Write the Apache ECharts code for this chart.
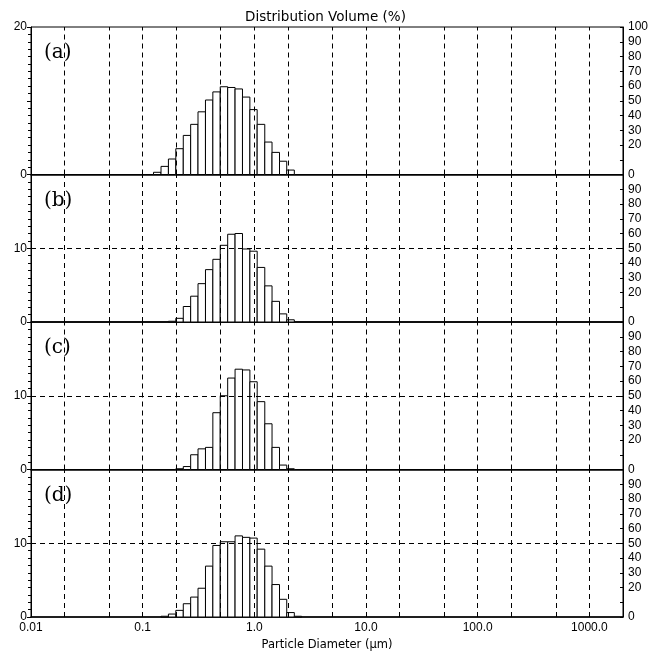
<!DOCTYPE html>
<html>
<head>
<meta charset="utf-8">
<script src="https://cdn.jsdelivr.net/npm/echarts@6/dist/echarts.min.js"></script>
<style>
  html, body { margin: 0; padding: 0; background: #fff; }
  #chart { width: 651px; height: 653px; }
</style>
</head>
<body>
<div id="chart"></div>
<script>
// bin edges of the size classes (um), bin i runs from binEdges[i] to binEdges[i+1]
const binEdges = [0.107, 0.125, 0.146, 0.170, 0.198, 0.231, 0.269, 0.313, 0.365, 0.425, 0.495,
  0.577, 0.672, 0.783, 0.912, 1.06, 1.24, 1.44, 1.68, 1.95, 2.28, 2.65];

// volume in each bin (%)
const volA = [0, 0.3, 1.1, 2.1, 3.5, 5.3, 6.8, 8.5, 10.1, 11.2, 11.9, 11.8, 11.6, 10.5, 8.8, 6.8, 4.4, 3.0, 1.8, 0.6, 0];
const volB = [0, 0, 0, 0.1, 0.5, 2.1, 3.5, 5.2, 7.1, 8.5, 10.4, 11.9, 12.0, 9.9, 9.6, 7.4, 4.9, 2.8, 1.1, 0.3, 0];
const volC = [0, 0, 0, 0, 0.1, 0.4, 2.0, 2.8, 3.0, 7.7, 10.0, 12.4, 13.6, 13.5, 11.9, 9.2, 6.2, 3.0, 0.6, 0.1, 0];
const volD = [0, 0, 0.1, 0.4, 0.9, 1.8, 2.7, 3.9, 6.9, 9.7, 10.2, 10.2, 11.0, 10.8, 10.7, 9.2, 6.9, 4.4, 2.4, 0.6, 0.1];

const panelNames = ['(a)', '(b)', '(c)', '(d)'];
const panelData = [volA, volB, volC, volD];

// dashed vertical grid lines (um)
const gridDiam = [0.02, 0.05, 0.1, 0.2, 0.5, 1, 2, 5, 10, 20, 50, 100, 200, 500, 1000];
const xTickLabels = ['0.01', '0.1', '1.0', '10.0', '100.0', '1000.0'];

const chart = echarts.init(document.getElementById('chart'));

const panelTop = [27, 174.5, 322, 469.5];
const panelH = 147.5;
const font = '"Liberation Sans", Arial, sans-serif';
const wideFont = '"DejaVu Sans", sans-serif';

const grids = [], xAxes = [], yAxes = [], series = [], graphics = [];

panelData.forEach(function (vals, i) {
  grids.push({
    left: 31, right: 28, top: panelTop[i], height: panelH,
    show: true, borderColor: '#000', borderWidth: 1, backgroundColor: 'transparent'
  });

  xAxes.push({
    type: 'log', logBase: 10, gridIndex: i, min: 0.01, max: 2000,
    axisLine: { show: true, onZero: false, lineStyle: { color: '#000', width: 1.5 } },
    axisTick: { show: false },
    splitLine: { show: false },
    axisLabel: {
      show: i === 3, color: '#000', fontSize: 12, fontFamily: font, margin: 5,
      showMaxLabel: false,
      formatter: function (v) {
        const e = Math.log10(v);
        if (Math.abs(e - Math.round(e)) > 1e-6) return '';
        return xTickLabels[Math.round(e) + 2] || '';
      }
    },
    name: i === 3 ? 'Particle Diameter (µm)' : '',
    nameLocation: 'middle', nameGap: 22,
    nameTextStyle: { color: '#000', fontSize: 11.5, fontFamily: wideFont }
  });

  // left axis: distribution volume 0-20
  yAxes.push({
    type: 'value', gridIndex: i, min: 0, max: 20, interval: 10, position: 'left',
    axisLine: { show: true, lineStyle: { color: '#000' } },
    axisTick: { show: true, length: 4, lineStyle: { color: '#000' } },
    minorTick: { show: true, splitNumber: 10, length: 3, lineStyle: { color: '#000' } },
    splitLine: { show: false },
    axisLabel: {
      color: '#000', fontSize: 12, fontFamily: font, margin: 4,
      showMaxLabel: i === 0,
      formatter: function (v) { return (i === 0 && v === 10) ? '' : String(v); }
    }
  });

  // right axis: cumulative 0-100
  yAxes.push({
    type: 'value', gridIndex: i, min: 0, max: 100, interval: 10, position: 'right',
    axisLine: { show: true, lineStyle: { color: '#000' } },
    axisTick: { show: true, inside: true, length: 3, lineStyle: { color: '#000' } },
    splitLine: { show: false },
    axisLabel: {
      color: '#000', fontSize: 12, fontFamily: font, margin: 5,
      padding: [0, 0, 8, 0],
      showMaxLabel: i === 0,
      formatter: function (v) { return v === 10 ? '' : String(v); }
    }
  });

  const lines = gridDiam.map(function (d) { return { xAxis: d }; });
  if (i > 0) lines.push({ yAxis: 10 });

  series.push({
    type: 'custom',
    xAxisIndex: i,
    yAxisIndex: i * 2,
    data: vals.map(function (v, k) { return [binEdges[k], binEdges[k + 1], v]; }),
    encode: { x: [0, 1], y: 2 },
    renderItem: function (params, api) {
      const h = api.value(2);
      if (!h) return null;
      const p0 = api.coord([api.value(0), 0]);
      const p1 = api.coord([api.value(1), h]);
      return {
        type: 'rect',
        shape: { x: p0[0], y: p1[1], width: p1[0] - p0[0], height: p0[1] - p1[1] },
        style: { fill: '#fff', stroke: '#000', lineWidth: 1 }
      };
    },
    markLine: {
      silent: true, symbol: 'none', animation: false,
      label: { show: false },
      lineStyle: { color: '#000', type: [5, 4], width: 1 },
      data: lines
    },
    animation: false
  });

  graphics.push({
    type: 'text', left: 44, top: panelTop[i] + 16,
    style: { text: panelNames[i], fill: '#000', font: '20px "DejaVu Serif", serif' }
  });
});

chart.setOption({
  backgroundColor: '#fff',
  animation: false,
  title: {
    text: 'Distribution Volume (%)', left: 'center', top: 5,
    textStyle: { color: '#000', fontSize: 13.5, fontWeight: 'normal', fontFamily: wideFont }
  },
  grid: grids,
  xAxis: xAxes,
  yAxis: yAxes,
  series: series,
  graphic: graphics
});
</script>
</body>
</html>
